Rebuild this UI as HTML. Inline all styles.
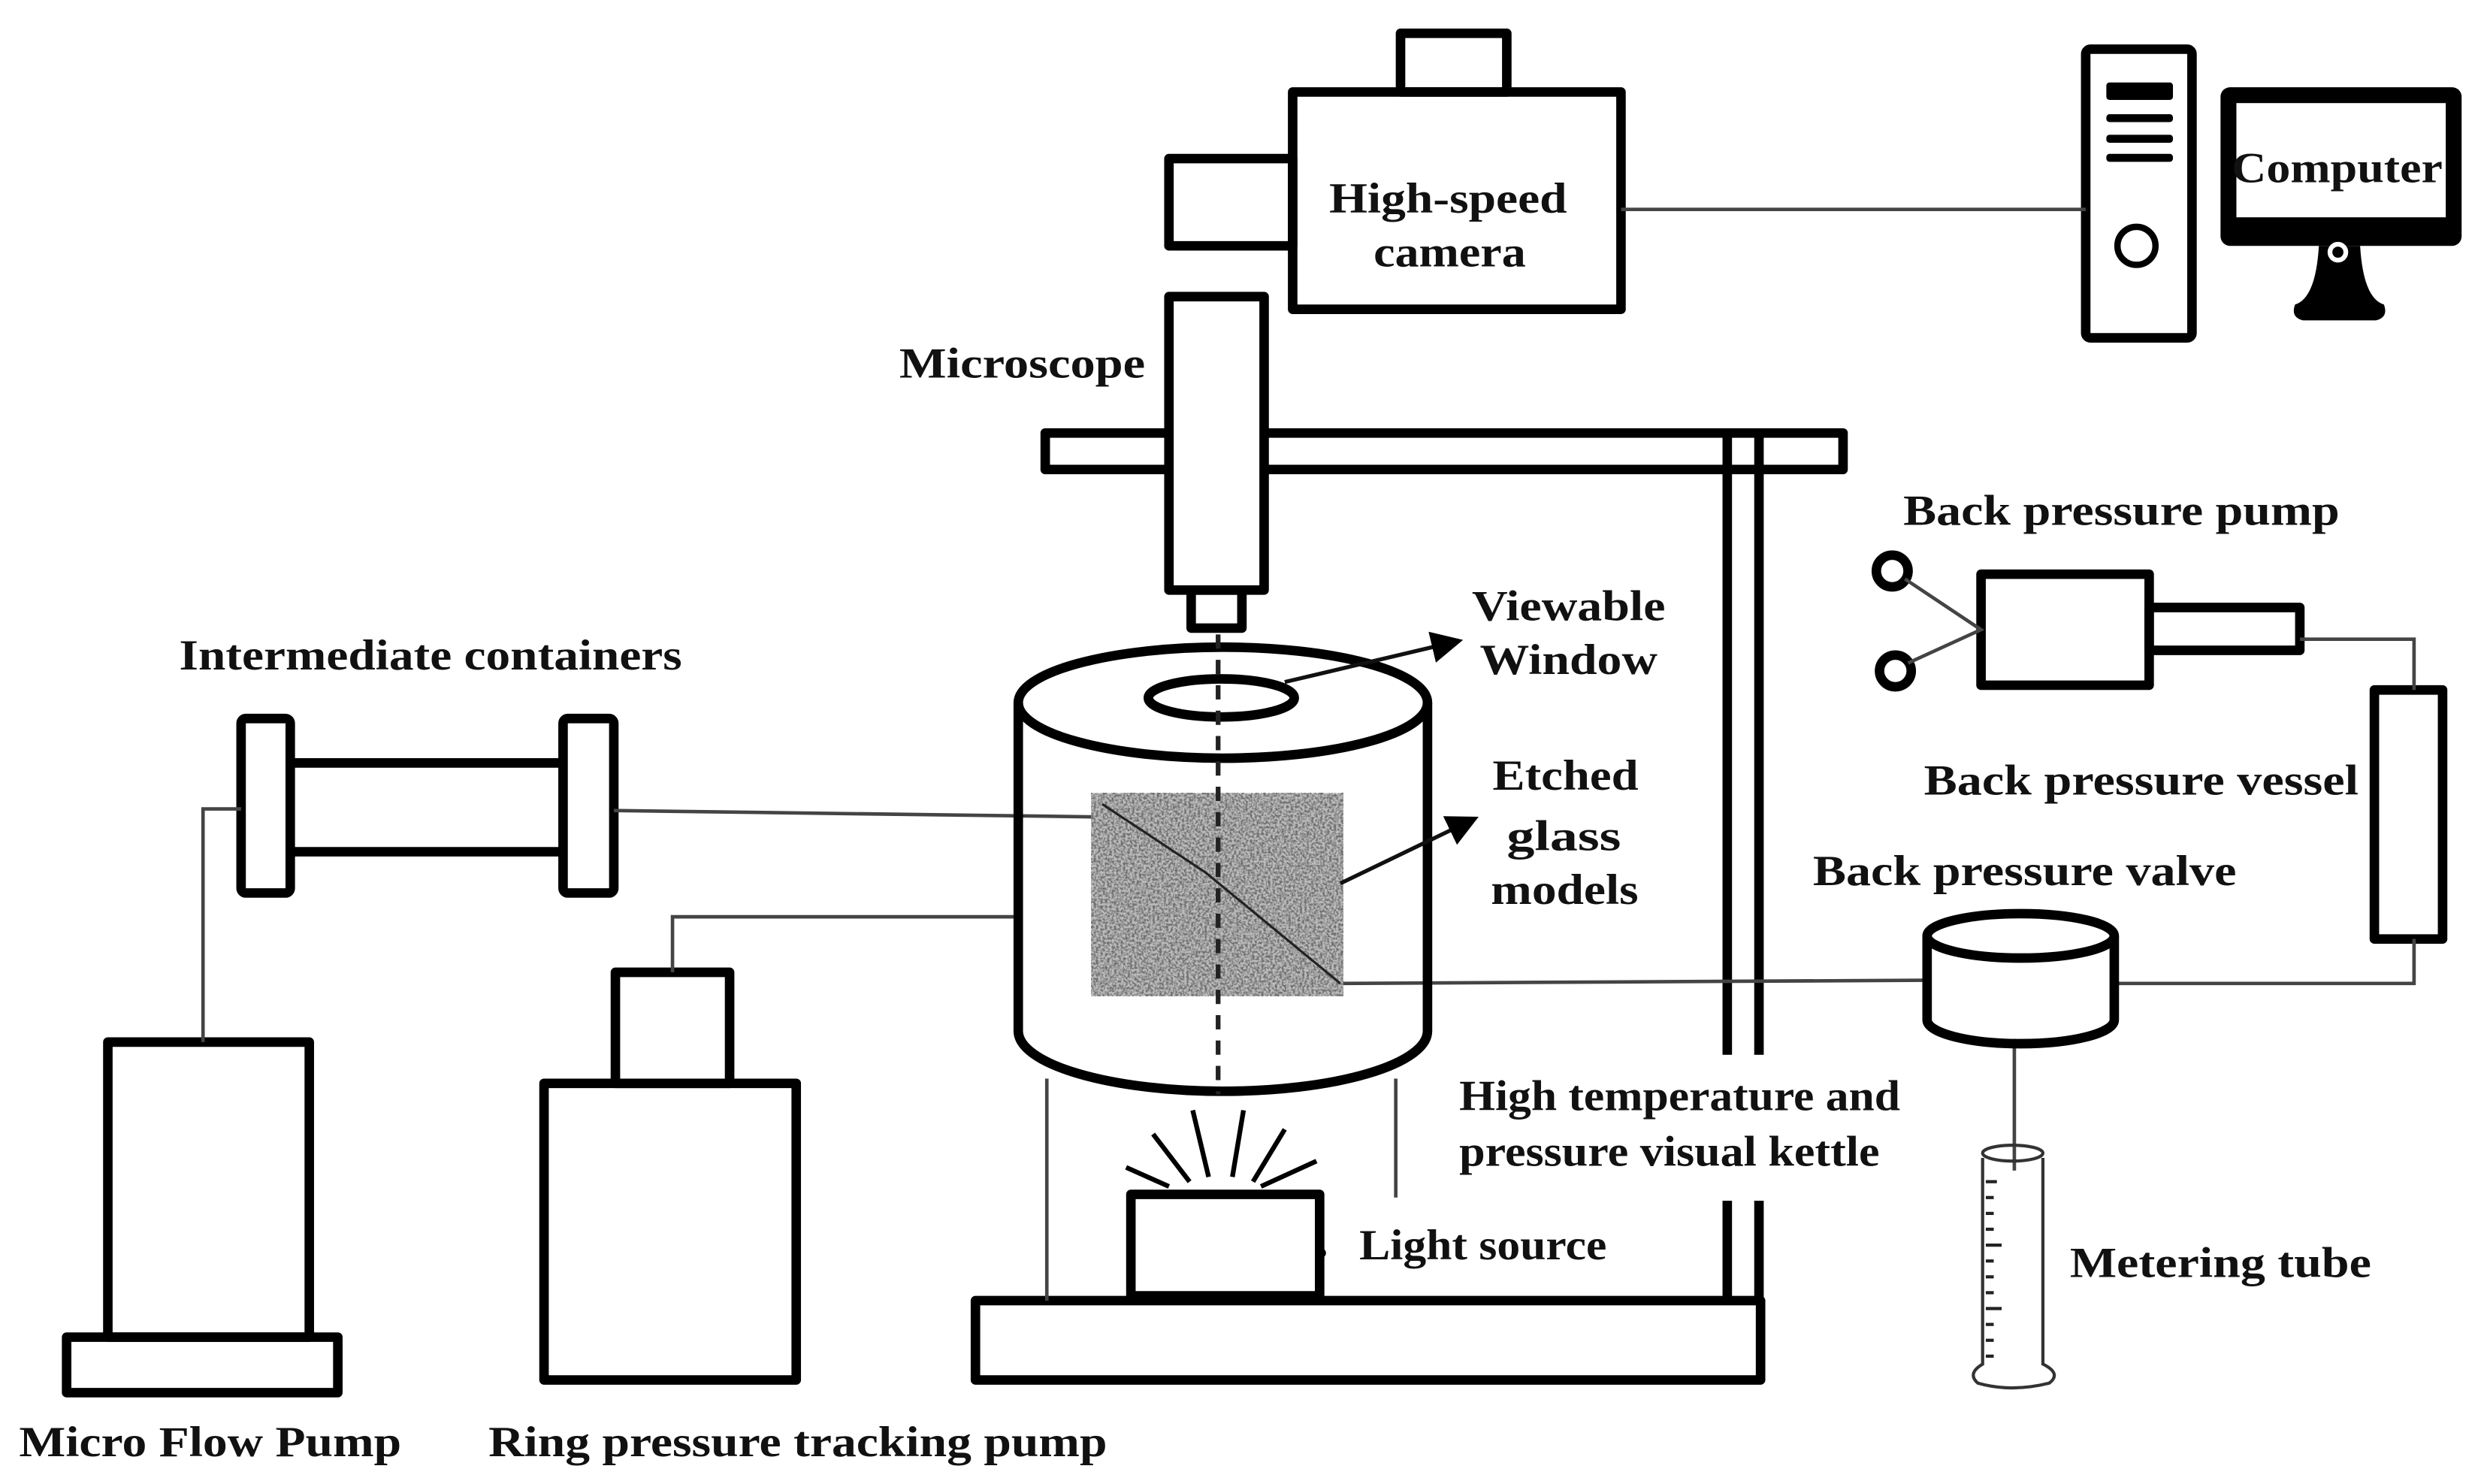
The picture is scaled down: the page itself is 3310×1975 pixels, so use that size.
<!DOCTYPE html>
<html><head><meta charset="utf-8"><style>
html,body{margin:0;padding:0;background:#fff}
svg{display:block}
text{font-family:"Liberation Serif",serif;font-weight:bold;fill:#111;font-size:27px}
</style></head><body>
<svg width="3310" height="1975" viewBox="0 0 1568 935.6" preserveAspectRatio="none" xmlns="http://www.w3.org/2000/svg">
<defs>
<filter id="n" x="0" y="0" width="100%" height="100%">
<feTurbulence type="fractalNoise" baseFrequency="0.7" numOctaves="2" seed="3"/>
<feColorMatrix type="matrix" values="0 0 0 0 0.15  0 0 0 0 0.15  0 0 0 0 0.15  -3 0 0 0 1.9"/>
</filter>
<marker id="ar" markerWidth="8" markerHeight="8" refX="7" refY="4" orient="auto" markerUnits="strokeWidth"><path d="M0,0 L8,4 L0,8 z" fill="#000"/></marker>
</defs>
<rect width="1568" height="935.6" fill="#fff"/>
<g fill="none" stroke="#000" stroke-width="6" stroke-linejoin="round">
<rect x="883" y="21" width="67" height="37"/>
<rect x="737" y="100" width="78" height="55"/>
<rect x="815" y="58" width="207" height="137"/>
<rect x="1315" y="31" width="67" height="182" rx="3"/>
<circle cx="1347" cy="155" r="12" stroke-width="4"/>
<rect x="659" y="273" width="503" height="23"/>
<rect x="737" y="187" width="60" height="185" fill="#fff"/>
<rect x="751" y="372" width="32" height="24"/>
<line x1="1089" y1="273" x2="1089" y2="822"/>
<line x1="1109" y1="273" x2="1109" y2="822"/>
<rect x="152" y="453" width="31" height="110" rx="3"/>
<rect x="355" y="453" width="32" height="110" rx="3"/>
<line x1="183" y1="481" x2="355" y2="481"/>
<line x1="183" y1="537" x2="355" y2="537"/>
<rect x="68" y="657" width="127" height="186"/>
<rect x="42" y="843" width="171" height="35"/>
<rect x="388" y="613" width="72" height="70"/>
<rect x="343" y="683" width="159" height="187"/>
<rect x="615" y="820" width="495" height="50"/>
<rect x="713" y="753" width="119" height="64"/>
<rect x="1249" y="362" width="106" height="70"/>
<rect x="1355" y="383" width="95" height="27"/>
<circle cx="1193" cy="360" r="10"/>
<circle cx="1195" cy="423" r="10"/>
<rect x="1497" y="435" width="43" height="157"/>
</g>
<g fill="none" stroke="#444" stroke-width="2.2">
<line x1="1022" y1="132" x2="1315" y2="132"/>
<path d="M128,657 V510 H152"/>
<line x1="387" y1="511" x2="690" y2="515"/>
<path d="M424,613 V578 H642"/>
<line x1="660" y1="680" x2="660" y2="820"/>
<line x1="880" y1="680" x2="880" y2="755"/>
<line x1="847" y1="620" x2="1215" y2="618"/>
<path d="M1333,620 H1522 V592"/>
<path d="M1450,403 H1522 V435"/>
<path d="M1201,365 L1249,397 L1203,418"/>
<line x1="1270" y1="655" x2="1270" y2="738"/>
</g>
<g fill="#000">
<rect x="1328" y="52" width="42" height="11" rx="2"/>
<rect x="1328" y="72" width="42" height="5" rx="2"/>
<rect x="1328" y="85" width="42" height="5" rx="2"/>
<rect x="1328" y="97" width="42" height="5" rx="2"/>
<rect x="1400" y="55" width="152" height="100" rx="6"/>
<path d="M1462,155 L1488,155 Q1490,188 1503,192 Q1506,200 1498,202 L1452,202 Q1444,200 1447,192 Q1460,188 1462,155z"/>
</g>
<rect x="1410" y="65" width="132" height="72" fill="#fff"/>
<circle cx="1474" cy="159" r="5" fill="none" stroke="#fff" stroke-width="3"/>
<g fill="none" stroke="#000" stroke-width="6">
<path d="M642,443 V650 A129,38 0 0 0 900,650 V443"/>
<ellipse cx="771" cy="443" rx="129" ry="35"/>
<ellipse cx="770" cy="440" rx="46" ry="12"/>
<path d="M1215,590 V643 A59,15 0 0 0 1333,643 V590"/>
<ellipse cx="1274" cy="590" rx="59" ry="14"/>
</g>
<rect x="688" y="500" width="159" height="128" fill="#bdbdbd"/>
<rect x="688" y="500" width="159" height="128" filter="url(#n)"/>
<path d="M695,507 L760,550 L845,620" stroke="#222" stroke-width="1.5" fill="none"/>
<line x1="768" y1="400" x2="768" y2="690" stroke="#222" stroke-width="3" stroke-dasharray="9,7"/>
<line x1="810" y1="430" x2="920" y2="404" stroke="#111" stroke-width="2.5" marker-end="url(#ar)"/>
<line x1="845" y1="557" x2="930" y2="516" stroke="#111" stroke-width="2.5" marker-end="url(#ar)"/>
<g stroke="#000" stroke-width="3">
<line x1="750" y1="745" x2="727" y2="715"/>
<line x1="762" y1="742" x2="752" y2="700"/>
<line x1="777" y1="742" x2="784" y2="700"/>
<line x1="790" y1="745" x2="810" y2="712"/>
<line x1="737" y1="748" x2="710" y2="736"/>
<line x1="795" y1="748" x2="830" y2="732"/>
</g>
<circle cx="833" cy="790" r="3" fill="#000"/>
<g fill="none" stroke="#333" stroke-width="2">
<path d="M1250,730 V860 Q1240,866 1247,872 Q1268,878 1292,872 Q1300,866 1288,860 V730"/>
<ellipse cx="1269" cy="727" rx="19" ry="5"/>
</g>
<g stroke="#222" stroke-width="2">
<line x1="1252" y1="745" x2="1259" y2="745"/><line x1="1252" y1="755" x2="1257" y2="755"/><line x1="1252" y1="765" x2="1257" y2="765"/><line x1="1252" y1="775" x2="1257" y2="775"/><line x1="1252" y1="785" x2="1262" y2="785"/><line x1="1252" y1="795" x2="1257" y2="795"/><line x1="1252" y1="805" x2="1257" y2="805"/><line x1="1252" y1="815" x2="1257" y2="815"/><line x1="1252" y1="825" x2="1262" y2="825"/><line x1="1252" y1="835" x2="1257" y2="835"/><line x1="1252" y1="845" x2="1257" y2="845"/><line x1="1252" y1="855" x2="1257" y2="855"/>
</g>
<rect x="905" y="665" width="295" height="92" fill="#fff"/>
<g lengthAdjust="spacingAndGlyphs">
<text x="838" y="134" textLength="150" lengthAdjust="spacingAndGlyphs">High-speed</text>
<text x="866" y="168" textLength="96" lengthAdjust="spacingAndGlyphs">camera</text>
<text x="1407" y="115" textLength="133" lengthAdjust="spacingAndGlyphs">Computer</text>
<text x="567" y="238" textLength="155" lengthAdjust="spacingAndGlyphs">Microscope</text>
<text x="928" y="391" textLength="122" lengthAdjust="spacingAndGlyphs">Viewable</text>
<text x="933" y="425" textLength="112" lengthAdjust="spacingAndGlyphs">Window</text>
<text x="941" y="498" textLength="92" lengthAdjust="spacingAndGlyphs">Etched</text>
<text x="950" y="536" textLength="72" lengthAdjust="spacingAndGlyphs">glass</text>
<text x="940" y="570" textLength="93" lengthAdjust="spacingAndGlyphs">models</text>
<text x="113" y="422" textLength="317" lengthAdjust="spacingAndGlyphs">Intermediate containers</text>
<text x="1200" y="331" textLength="275" lengthAdjust="spacingAndGlyphs">Back pressure pump</text>
<text x="1213" y="501" textLength="274" lengthAdjust="spacingAndGlyphs">Back pressure vessel</text>
<text x="1143" y="558" textLength="267" lengthAdjust="spacingAndGlyphs">Back pressure valve</text>
<text x="12" y="918" textLength="241" lengthAdjust="spacingAndGlyphs">Micro Flow Pump</text>
<text x="308" y="918" textLength="390" lengthAdjust="spacingAndGlyphs">Ring pressure tracking pump</text>
<text x="920" y="700" font-size="26" textLength="278" lengthAdjust="spacingAndGlyphs">High temperature and</text>
<text x="920" y="735" font-size="26" textLength="265" lengthAdjust="spacingAndGlyphs">pressure visual kettle</text>
<text x="857" y="794" textLength="156" lengthAdjust="spacingAndGlyphs">Light source</text>
<text x="1305" y="805" textLength="190" lengthAdjust="spacingAndGlyphs">Metering tube</text>
</g>
</svg>
</body></html>
